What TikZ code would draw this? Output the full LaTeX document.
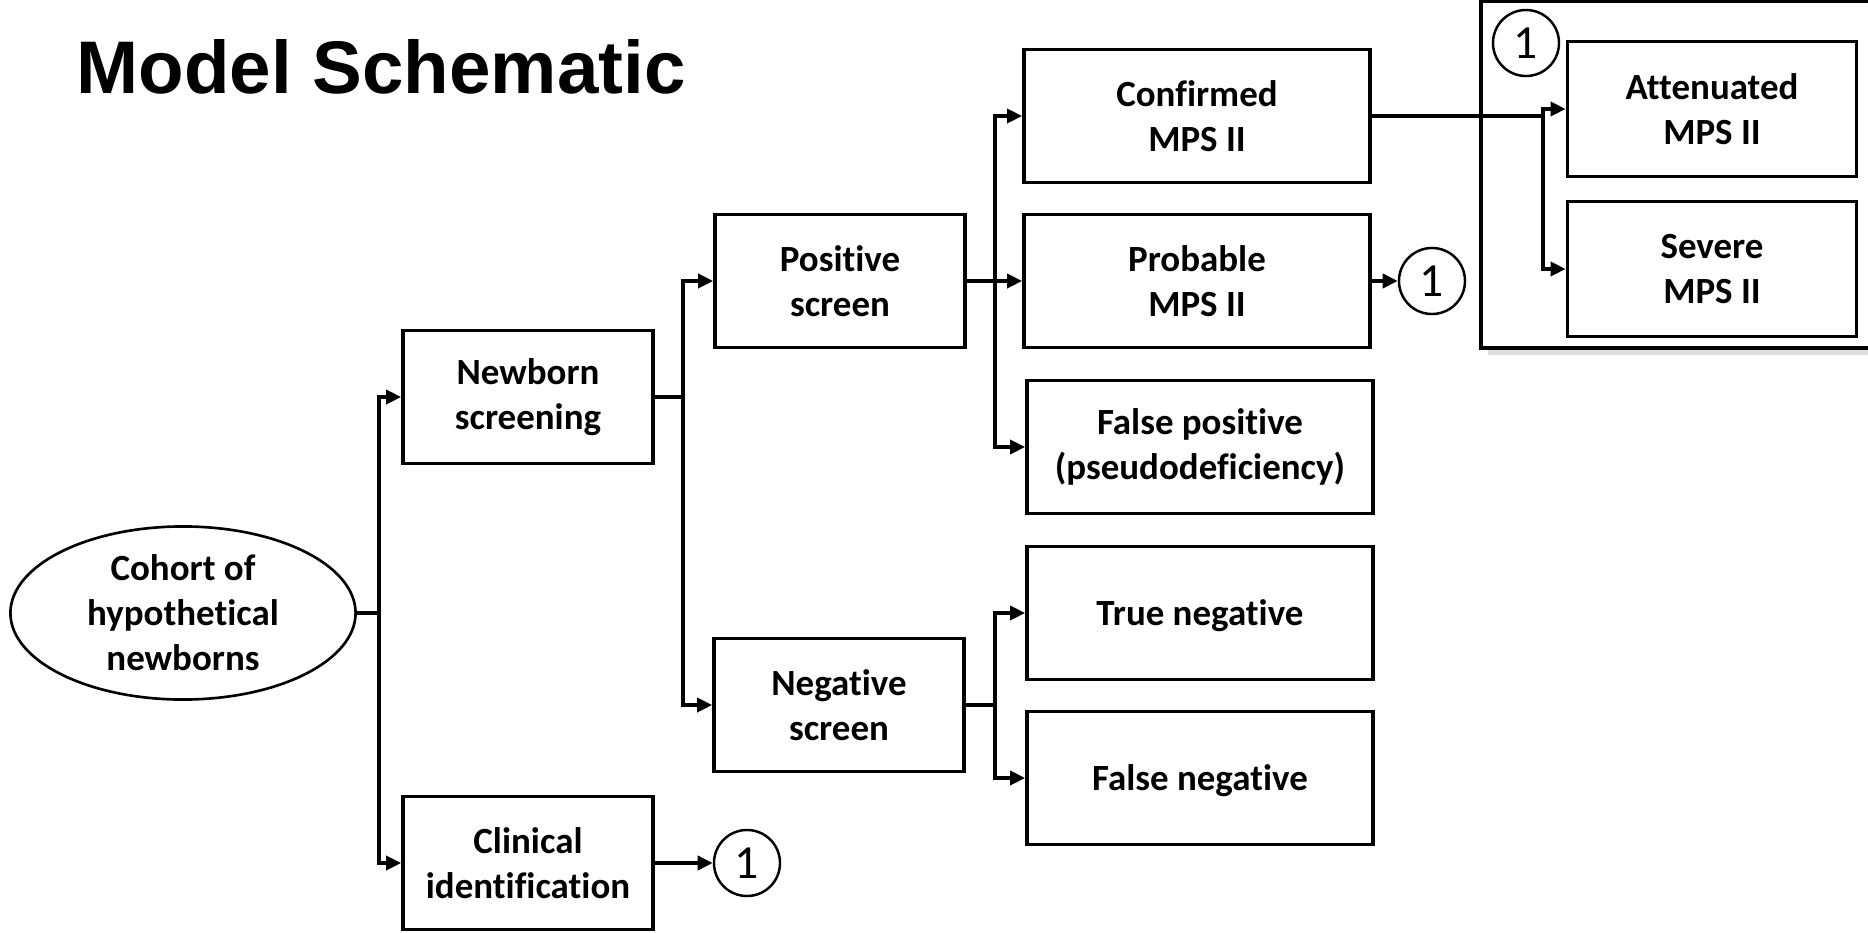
\documentclass[tikz,border=0pt]{standalone}
\usepackage{fontspec}
\setmainfont{Carlito}[RawFeature={-liga;-clig;-calt}]
\newfontfamily\titlefont{Liberation Sans}
\usetikzlibrary{shapes.geometric, arrows.meta, shadows}

\begin{document}
\begin{tikzpicture}[
    x=0.01cm, y=-0.01cm,
    box/.style={draw, line width=1pt, minimum width=2.5cm, minimum height=1.33cm,
                inner sep=0pt, align=center, font=\fontsize{10.5}{12.8}\selectfont\bfseries},
    wide/.style={box, minimum width=3.46cm},
    ref/.style={draw, circle, line width=0.7pt, minimum size=0.66cm, inner sep=0pt,
                font=\fontsize{13.5}{14}\selectfont},
    link/.style={line width=1pt},
    arr/.style={link, -{Triangle[length=0.15cm, width=0.14cm]}}
]
  \useasboundingbox (0,0) rectangle (1868,933);

  % Title
  \node[font=\titlefont\fontsize{21.2}{24}\selectfont\bfseries, anchor=base west,
        inner sep=0pt] (title) at (76, 93) {Model Schematic};

  % Group of outcomes (top right)
  \node[draw, line width=1pt, fill=white, minimum width=4cm, minimum height=3.47cm,
        drop shadow={shadow xshift=2pt, shadow yshift=-2pt, opacity=0.25}]
        (grp) at (1681, 174.5) {};
  \node[ref] (ref0) at (1526, 43) {1};
  \node[box, minimum width=2.89cm, minimum height=1.35cm] (att) at (1712, 109) {Attenuated\\MPS II};
  \node[box, minimum width=2.89cm, minimum height=1.35cm] (sev) at (1712, 269) {Severe\\MPS II};

  % Root
  \node[draw, ellipse, line width=0.75pt, minimum width=3.45cm, minimum height=1.73cm,
        inner sep=0pt, align=center, font=\fontsize{10.5}{12.8}\selectfont\bfseries]
        (cohort) at (183, 613) {Cohort of\\hypothetical\\newborns};

  % Level 1
  \node[box] (nbs)  at (528, 397) {Newborn\\screening};
  \node[box] (clin) at (528, 863) {Clinical\\identification};
  \node[ref] (ref1) at (747, 863) {1};

  % Level 2
  \node[box] (pos) at (840, 281) {Positive\\screen};
  \node[box] (neg) at (839, 705) {Negative\\screen};

  % Level 3
  \node[wide] (conf) at (1197, 116) {Confirmed\\MPS II};
  \node[wide] (prob) at (1197, 281) {Probable\\MPS II};
  \node[ref]  (ref2) at (1432, 281) {1};
  \node[wide] (fpos) at (1200, 447) {False positive\\(pseudodeficiency)};
  \node[wide, text depth=0pt] (tneg) at (1200, 613) {True negative};
  \node[wide, text depth=0pt] (fneg) at (1200, 778) {False negative};

  % Branch points
  \coordinate (s1) at (379, 613);
  \coordinate (s2) at (683, 397);
  \coordinate (s3) at (995, 281);
  \coordinate (s4) at (995, 705);
  \coordinate (s5) at (1543, 116);

  % Connectors
  \draw[link] (cohort.east) -- (s1);
  \draw[arr] (s1) |- (nbs.west);
  \draw[arr] (s1) |- (clin.west);
  \draw[arr] (clin.east) -- (ref1);

  \draw[link] (nbs.east) -- (s2);
  \draw[arr] (s2) |- (pos.west);
  \draw[arr] (s2) |- (neg.west);

  \draw[link] (pos.east) -- (s3);
  \draw[arr] (s3) |- (conf.west);
  \draw[arr] (s3) -- (prob.west);
  \draw[arr] (s3) |- (fpos.west);
  \draw[arr] (prob.east) -- (ref2);

  \draw[link] (neg.east) -- (s4);
  \draw[arr] (s4) |- (tneg.west);
  \draw[arr] (s4) |- (fneg.west);

  \draw[link] (conf.east) -- (s5);
  \draw[arr] (s5) |- (att.west);
  \draw[arr] (s5) |- (sev.west);
\end{tikzpicture}
\end{document}
